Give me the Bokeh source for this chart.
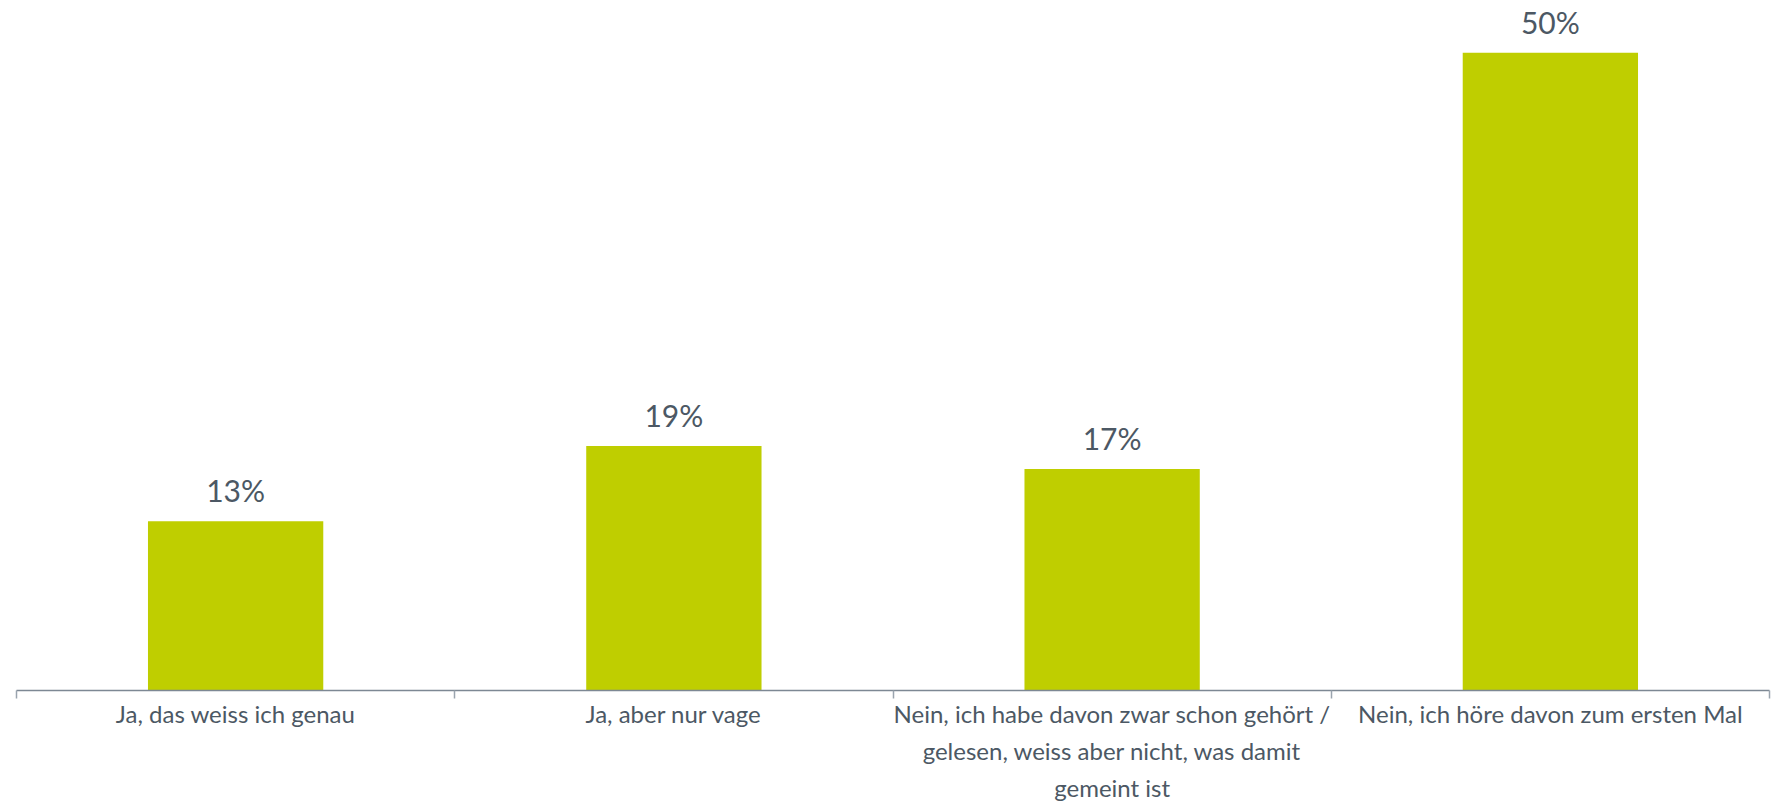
import numpy as np
from bokeh.plotting import figure
from bokeh.models import ColumnDataSource, FixedTicker, Range1d
from bokeh.core.properties import value
from bokeh.embed import file_html
from bokeh.resources import INLINE

categories = [
    "Ja, das weiss ich genau",
    "Ja, aber nur vage",
    "Nein, ich habe davon zwar schon gehört /\ngelesen, weiss aber nicht, was damit\ngemeint ist",
    "Nein, ich höre davon zum ersten Mal",
]
values = [13.3, 19.2, 17.4, 50.1]
value_labels = ["13%", "19%", "17%", "50%"]

FONT = "Lato"
TEXT_COLOR = "#4c5864"
BAR_COLOR = "#bfce00"

xs = np.arange(len(categories)) + 0.5
src = ColumnDataSource(dict(x=xs, top=values, lab=value_labels))

p = figure(width=1775, height=804, output_backend="svg", toolbar_location=None,
           x_range=Range1d(0, len(categories)), y_range=Range1d(0, 54.2),
           min_border_left=16, min_border_right=6, min_border_top=0, min_border_bottom=113)
p.outline_line_color = None
p.grid.visible = False
p.yaxis.visible = False
p.background_fill_color = "white"
p.border_fill_color = "white"

p.vbar(x="x", top="top", width=0.4, bottom=0, source=src, color=BAR_COLOR, line_color=None)
p.text(x="x", y="top", text="lab", source=src, text_align="center", text_baseline="alphabetic",
       y_offset=-31, text_font=value(FONT), text_font_size="30px", text_color=TEXT_COLOR)

ax = p.xaxis[0]
ax.ticker = FixedTicker(ticks=list(xs), minor_ticks=list(range(len(categories) + 1)))
ax.major_label_overrides = {float(x): c for x, c in zip(xs, categories)}
ax.major_tick_line_color = None
ax.major_tick_out = 0
ax.major_tick_in = 0
ax.minor_tick_out = 8
ax.minor_tick_in = 0
ax.minor_tick_line_color = "#9aa4ae"
ax.minor_tick_line_width = 1.5
ax.axis_line_color = "#7d8894"
ax.axis_line_width = 1.5
ax.major_label_text_font = FONT
ax.major_label_text_font_size = "24px"
ax.major_label_text_color = TEXT_COLOR
ax.major_label_text_line_height = 1.28
ax.major_label_standoff = 0

open("out.html", "w").write(file_html(p, INLINE))
